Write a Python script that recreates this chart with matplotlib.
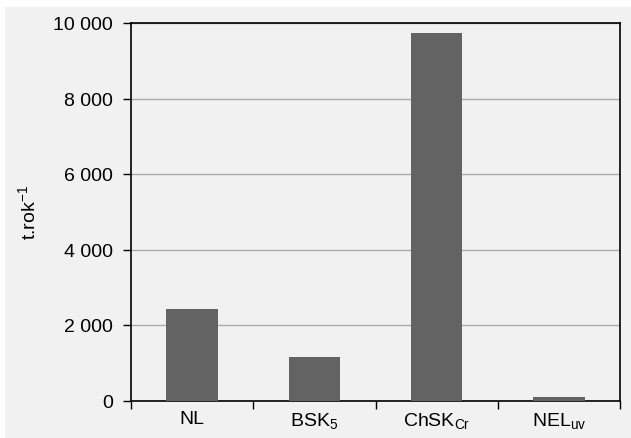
import matplotlib
matplotlib.use("Agg")
import matplotlib.pyplot as plt
from matplotlib.ticker import FuncFormatter, FixedLocator, MultipleLocator
from matplotlib.patches import Rectangle

categories = ["NL", r"BSK$_{\mathrm{5}}$", r"ChSK$_{\mathrm{Cr}}$", r"NEL$_{\mathrm{uv}}$"]
values = [2420, 1150, 9730, 100]

plt.rcParams["font.family"] = ["Liberation Sans", "DejaVu Sans"]
plt.rcParams["mathtext.fontset"] = "custom"
plt.rcParams["mathtext.rm"] = "Liberation Sans"
plt.rcParams["mathtext.it"] = "Liberation Sans:italic"
plt.rcParams["font.size"] = 14

bg = "#f1f1f1"
fig = plt.figure(figsize=(6.31, 4.39), dpi=100)
fig.patch.set_facecolor("white")
fig.patches.append(Rectangle((5 / 631, 0), 1, 1 - 8 / 439, transform=fig.transFigure,
                             facecolor=bg, edgecolor="none", zorder=-5))

ax = fig.add_axes([131 / 631, 1 - 401.5 / 439, (620 - 131) / 631, (401.5 - 24) / 439])
ax.set_facecolor(bg)

x = range(len(values))
ax.bar(x, values, width=0.42, color="#636363", zorder=3)

ax.set_xlim(-0.5, len(values) - 0.5)
ax.set_ylim(0, 10000)
ax.yaxis.set_major_locator(MultipleLocator(2000))
ax.yaxis.set_major_formatter(FuncFormatter(lambda v, p: f"{int(v):,}".replace(",", " ")))
ax.grid(axis="y", color="#aaaaaa", linewidth=1, zorder=1)

# category labels centred, tick marks between categories
ax.set_xticks(list(x))
ax.set_xticklabels(categories)
ax.tick_params(axis="x", length=0, pad=7)
ax.xaxis.set_minor_locator(FixedLocator([i - 0.5 for i in range(len(values) + 1)]))
ax.tick_params(axis="x", which="minor", length=6, width=1, color="black")
ax.tick_params(axis="y", length=6, width=1, pad=7)

for s in ax.spines.values():
    s.set_color("black")
    s.set_linewidth(1.2)

ax.set_ylabel(r"t.rok$^{\mathrm{-1}}$", labelpad=10)

fig.savefig("out.png", dpi=100, facecolor=fig.get_facecolor())
